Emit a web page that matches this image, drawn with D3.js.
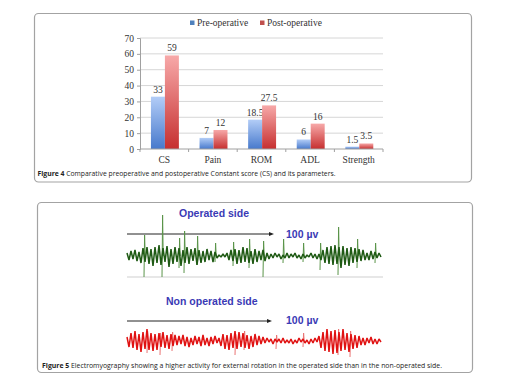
<!DOCTYPE html>
<html><head><meta charset="utf-8">
<script src="https://cdn.jsdelivr.net/npm/d3@7"></script>
<style>html,body{margin:0;padding:0;background:#fff;} svg{display:block}</style>
</head><body><svg id="c" width="516" height="386"></svg>
<script>
// ---------- Figure 4 data ----------
const categories = ["CS", "Pain", "ROM", "ADL", "Strength"];
const seriesNames = ["Pre-operative", "Post-operative"];
const preValues = [33, 7, 18.5, 6, 1.5];
const postValues = [59, 12, 27.5, 16, 3.5];
const yTicks = [0, 10, 20, 30, 40, 50, 60, 70];

// ---------- Figure 5 data (EMG traces) ----------
// signed samples of the background activity, one every 2 time units
const operatedNoise = [
  3,-4,5,-3,6,-5,4,-7,8,-6, 9,-8,7,-10,9,-7,11,-9,8,-6, 10,-11,7,-8,9,-6,8,-10,6,-7,
  9,-8,7,-5,8,-9,6,-7,5,-6, 7,-4,5,-6,4,
  -2,1,-1,2,-1,
  3,-4,6,-5,7,-8,6,-7,9,-6, 8,-7,5,-8,7,-6,5,-4,6,-5, 3,-3,
  2,-2,3,-1,2,-3,1,-2,3,-2, 2,-1,3,-2,1,-3,2,-2,1,-1, 3,-2,2,-3,2,
  -4,6,-7,9,-8,10,-9,11,-8,9, -12,10,-9,8,-10,9,-7,8,-6,7, -5,6,
  -4,3,-4,5,-3,4,-2,3,-1
];
// motor unit spikes: time, height above baseline, depth below baseline
const operatedSpikes = [
  [17,21,21],[35,41,21],[52,18,12],[57,25,17],[70,20,9],[88,13,6],[106,14,10],
  [122,17,12],[136,15,21],[156,17,7],[176,13,6],[193,13,14],[211,29,19],[230,17,12],[248,13,7]
];
const nonOperatedNoise = [
  4,-6,8,-7,10,-9,7,-11,9,-8, 12,-9,8,-10,7,-9,8,-6,9,-7, 6,-8,7,-5,6,
  -4,5,-3,6,-5,4,-6,3,-4,5, -3,4,-5,6,-4,3,-5,4,-3,5, -2,3,
  -5,7,-8,6,-9,8,-7,10,-8,9, -6,8,-7,6,-8,5,-6,7,-4,5, -3,4,
  -2,3,-1,2,-3,2,-1,2,-2,3, -2,1,-2,2,-3,1,-2,3,-1,2, -2,1,-3,2,-2,3,-1,
  5,-7,9,-10,12,-11,10,-13,11,-12, 9,-10,12,-9,8,-11,7,-8,6,-7, 5,-4,
  3,-4,3,-2,4,-3,2,-3,2,-1
];
const nonOperatedSpikes = [
  [20,10,12],[33,8,14],[45,9,10],[108,7,14],[117,10,9],[149,6,8],[176,8,6],[211,12,14],[223,10,16]
];

const svg = d3.select("#c");
const serif = "'Liberation Serif', 'DejaVu Serif', serif";
const sans = "'Liberation Sans', Arial, sans-serif";
const capFont = "'Open Sans', 'Noto Sans', sans-serif";

// ---------- frames ----------
svg.append("rect").attr("x", 34.5).attr("y", 13.5).attr("width", 437).attr("height", 168.5)
  .attr("rx", 4).attr("fill", "#fff").attr("stroke", "#a3a3a3").attr("stroke-width", 1.2);
svg.append("rect").attr("x", 37.5).attr("y", 202.5).attr("width", 435).attr("height", 170)
  .attr("rx", 4).attr("fill", "#fff").attr("stroke", "#a3a3a3").attr("stroke-width", 1.2);

// ---------- Figure 4 bar chart ----------
const defs = svg.append("defs");
const grads = [["gPre", "#b3cdf7", "#4779cc"], ["gPost", "#f7a9a9", "#c62f2f"]];
grads.forEach(([id, c1, c2]) => {
  const g = defs.append("linearGradient").attr("id", id).attr("x1", 0).attr("x2", 0).attr("y1", 0).attr("y2", 1);
  g.append("stop").attr("offset", "0%").attr("stop-color", c1);
  g.append("stop").attr("offset", "100%").attr("stop-color", c2);
});

const x0 = d3.scaleBand().domain(categories).range([140, 383]).padding(0);
const x1 = d3.scaleBand().domain(seriesNames)
  .range([x0.bandwidth() * 0.225, x0.bandwidth() * 0.8]).padding(0);
const y = d3.scaleLinear().domain([0, 70]).range([149, 38]);

// gridlines
svg.append("g").selectAll("line").data(yTicks.filter(d => d > 0)).join("line")
  .attr("x1", 140).attr("x2", 383).attr("y1", d => y(d)).attr("y2", d => y(d))
  .attr("stroke", "#d6d6d6").attr("stroke-width", 1);

// y axis
const yAxis = svg.append("g").attr("transform", "translate(140,0)")
  .call(d3.axisLeft(y).tickValues(yTicks).tickSize(3).tickPadding(3));
yAxis.select(".domain").attr("stroke", "#a0a0a0");
yAxis.selectAll(".tick line").attr("stroke", "#a0a0a0");
yAxis.selectAll("text").attr("font-family", serif).attr("font-size", 9.5).attr("fill", "#333");

// bars
const series = [preValues, postValues];
const fills = ["url(#gPre)", "url(#gPost)"];
series.forEach((vals, si) => {
  svg.append("g").selectAll("rect").data(vals).join("rect")
    .attr("x", (d, i) => x0(categories[i]) + x1(seriesNames[si]))
    .attr("y", d => y(d))
    .attr("width", x1.bandwidth())
    .attr("height", d => y(0) - y(d))
    .attr("fill", fills[si]);
  svg.append("g").selectAll("text").data(vals).join("text")
    .attr("x", (d, i) => x0(categories[i]) + x1(seriesNames[si]) + x1.bandwidth() / 2)
    .attr("y", d => y(d) - 4)
    .attr("text-anchor", "middle")
    .attr("font-family", serif).attr("font-size", 9.5).attr("fill", "#333")
    .text(d => d);
});

// x axis
const xAxisG = svg.append("g").attr("transform", "translate(0,149)");
xAxisG.append("line").attr("x1", 140).attr("x2", 383).attr("y1", 0).attr("y2", 0).attr("stroke", "#a0a0a0");
xAxisG.selectAll("line.t").data(categories.concat(["end"])).join("line").attr("class", "t")
  .attr("x1", (d, i) => i < categories.length ? x0(d) : x0.range()[1])
  .attr("x2", (d, i) => i < categories.length ? x0(d) : x0.range()[1])
  .attr("y1", 0).attr("y2", 3).attr("stroke", "#a0a0a0");
xAxisG.selectAll("text").data(categories).join("text")
  .attr("x", d => x0(d) + x0.bandwidth() / 2).attr("y", 14)
  .attr("text-anchor", "middle").attr("font-family", serif).attr("font-size", 9.5).attr("fill", "#333")
  .text(d => d);

// legend
const legendColors = ["#4f81bd", "#c0504d"];
const legendX = [190, 260];
seriesNames.forEach((n, i) => {
  svg.append("rect").attr("x", legendX[i]).attr("y", 20.5).attr("width", 4.5).attr("height", 4.5).attr("fill", legendColors[i]);
  svg.append("text").attr("x", legendX[i] + 7).attr("y", 26).attr("font-family", serif)
    .attr("font-size", 9.5).attr("fill", "#333").text(n);
});

// caption 4
const cap4 = svg.append("text").attr("x", 37.5).attr("y", 175.5).attr("font-family", capFont)
  .attr("font-size", 6.4).attr("fill", "#222").attr("textLength", 298).attr("lengthAdjust", "spacingAndGlyphs");
cap4.append("tspan").attr("font-weight", "bold").text("Figure 4 ");
cap4.append("tspan").text("Comparative preoperative and postoperative Constant score (CS) and its parameters.");

// ---------- Figure 5 EMG ----------
const xt = d3.scaleLinear().domain([0, 256]).range([127, 383]);
function drawTrace(noise, spikes, base, lineColor, spikeColor) {
  const yt = d3.scaleLinear().domain([-60, 60]).range([base + 60, base - 60]);
  const spikeG = svg.append("g");
  spikeG.selectAll("path").data(spikes).join("path")
    .attr("d", d => `M${xt(d[0])},${yt(-d[2])} L${xt(d[0]) + 0.6},${yt(d[1])} L${xt(d[0]) + 1.2},${yt(0)}`)
    .attr("fill", "none").attr("stroke", spikeColor).attr("stroke-width", 1);
  const line = d3.line().x((d, i) => xt(i * 2)).y(d => yt(d));
  svg.append("path").datum(noise).attr("d", line).attr("fill", "none")
    .attr("stroke", lineColor).attr("stroke-width", 1.5).attr("stroke-linejoin", "bevel");
}
function arrow(yy, x2) {
  svg.append("line").attr("x1", 127).attr("x2", x2).attr("y1", yy).attr("y2", yy)
    .attr("stroke", "#222").attr("stroke-width", 1);
  svg.append("path").attr("d", `M${x2 + 3},${yy} L${x2 - 2},${yy - 2} L${x2 - 2},${yy + 2} Z`).attr("fill", "#222");
}
const blue = "#3a3ab5";
svg.append("text").attr("x", 179).attr("y", 217).attr("font-family", sans).attr("font-weight", "bold")
  .attr("font-size", 10.5).attr("fill", blue).text("Operated side");
arrow(234, 271);
svg.append("text").attr("x", 286).attr("y", 238).attr("font-family", sans).attr("font-weight", "bold")
  .attr("font-size", 10.5).attr("fill", blue).text("100 µv");
svg.append("line").attr("x1", 127).attr("x2", 383).attr("y1", 277).attr("y2", 277)
  .attr("stroke", "#cfcfcf").attr("stroke-width", 1);
drawTrace(operatedNoise, operatedSpikes, 256, "#1f5a14", "#5a9449");

svg.append("text").attr("x", 166).attr("y", 305).attr("font-family", sans).attr("font-weight", "bold")
  .attr("font-size", 10.5).attr("fill", blue).text("Non operated side");
arrow(321, 269);
svg.append("text").attr("x", 286).attr("y", 324).attr("font-family", sans).attr("font-weight", "bold")
  .attr("font-size", 10.5).attr("fill", blue).text("100 µv");
drawTrace(nonOperatedNoise, nonOperatedSpikes, 341, "#e01212", "#ea7474");

const cap5 = svg.append("text").attr("x", 42).attr("y", 367.5).attr("font-family", capFont)
  .attr("font-size", 6.4).attr("fill", "#222").attr("textLength", 400).attr("lengthAdjust", "spacingAndGlyphs");
cap5.append("tspan").attr("font-weight", "bold").text("Figure 5 ");
cap5.append("tspan").text("Electromyography showing a higher activity for external rotation in the operated side than in the non-operated side.");
</script></body></html>
